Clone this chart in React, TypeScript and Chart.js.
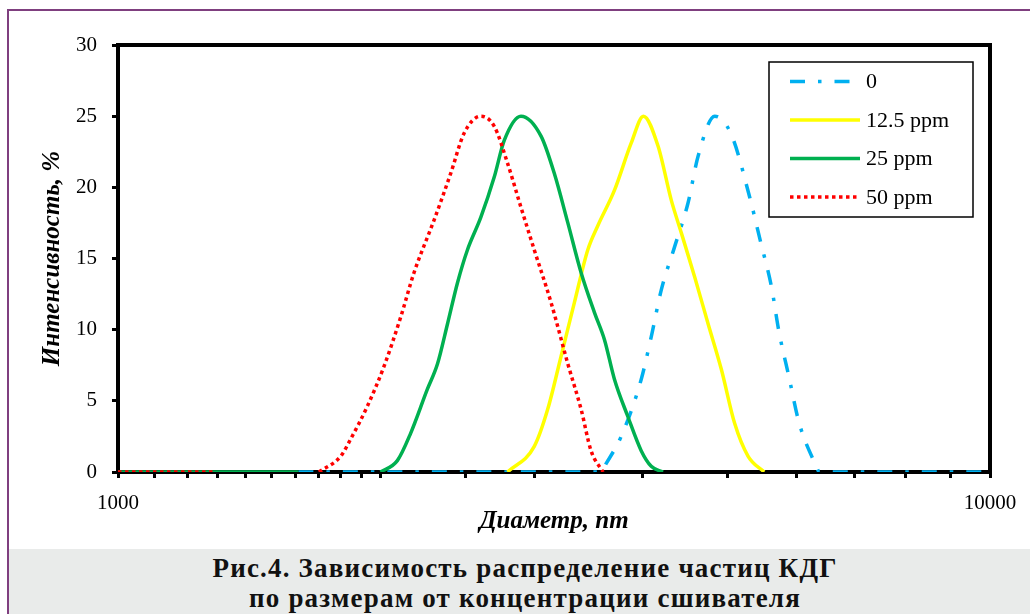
import React, { useEffect, useRef } from 'react';
import { Chart, registerables } from 'chart.js';

Chart.register(...registerables);

// ---------- data ----------
const seriesLabels = ['0', '12.5 ppm', '25 ppm', '50 ppm'];

// 0 (blue, dash-dot)
const diam0 = [1610, 3580, 3630, 3776, 3981, 4088, 4198, 4347, 4505, 4627, 4834, 5051, 5302, 5455, 5616, 5726, 5880, 6038, 6300, 6378, 10000];
const int0 = [0, 0, 0.6, 2.5, 6.5, 9.5, 12.8, 15.8, 18.9, 22.2, 25.0, 23.7, 19.3, 16.2, 13.0, 9.9, 6.7, 3.5, 0.6, 0, 0];

// 12.5 ppm (yellow)
const diam125 = [2797, 3002, 3110, 3221, 3337, 3457, 3550, 3710, 3877, 4005, 4162, 4310, 4426, 4585, 4751, 4920, 5096, 5280, 5508];
const int125 = [0, 1.8, 4.4, 8.1, 11.9, 15.6, 17.3, 19.8, 23.1, 25.0, 22.9, 19.1, 16.8, 13.7, 10.4, 7.2, 3.4, 1.1, 0];

// 25 ppm (green)
const diam25 = [1000, 1610, 1800, 2000, 2091, 2165, 2263, 2325, 2387, 2451, 2516, 2607, 2700, 2773, 2898, 3056, 3164, 3280, 3397, 3519, 3613, 3710, 3843, 3981, 4088, 4217];
const int25 = [0, 0, null, 0, 0.8, 2.7, 5.8, 7.6, 10.4, 13.3, 15.6, 17.9, 20.7, 23.3, 25.0, 23.6, 21.0, 17.5, 14.0, 11.2, 9.3, 6.5, 3.9, 1.5, 0.4, 0];

// 50 ppm (red, dotted)
const diam50 = [1000, 1286, 1500, 1700, 1800, 1848, 1931, 2018, 2110, 2185, 2304, 2408, 2494, 2607, 2700, 2797, 2898, 3002, 3138, 3280, 3397, 3487, 3600];
const int50 = [0, 0, null, 0, 1.1, 2.3, 4.6, 7.4, 10.9, 14.0, 17.7, 21.0, 23.8, 25.0, 24.3, 21.7, 18.6, 15.6, 11.9, 7.6, 4.4, 1.5, 0];

const xMin = 1000;
const xMax = 10000;
const xLabelled = [1000, 10000];
const yMin = 0;
const yMax = 30;
const yStep = 5;

const xTitle = 'Диаметр, nm';
const yTitle = 'Интенсивность, %';
const captionLines = ['Рис.4. Зависимость распределение частиц КДГ', 'по размерам от концентрации сшивателя'];

const SERIF = '"Liberation Serif", "Times New Roman", serif';

const toPoints = (xs: number[], ys: (number | null)[]) => xs.map((x, i) => ({ x, y: ys[i] }));

const framePlugin = {
  id: 'frame',
  beforeDatasetsDraw(chart: any) {
    const { ctx, chartArea } = chart;
    ctx.save();
    ctx.strokeStyle = '#000';
    ctx.lineWidth = 4;
    ctx.strokeRect(chartArea.left, chartArea.top, chartArea.right - chartArea.left, chartArea.bottom - chartArea.top);
    ctx.restore();
  },
};

const boxLegendPlugin = {
  id: 'boxLegend',
  afterDatasetsDraw(chart: any) {
    const { ctx, chartArea } = chart;
    const x0 = chartArea.right - 221;
    const y0 = chartArea.top + 17;
    const w = 204;
    const h = 155;
    ctx.save();
    ctx.fillStyle = '#fff';
    ctx.fillRect(x0, y0, w, h);
    ctx.lineWidth = 1.5;
    ctx.strokeStyle = '#000';
    ctx.setLineDash([]);
    ctx.strokeRect(x0, y0, w, h);
    chart.data.datasets.forEach((ds: any, i: number) => {
      const y = y0 + 19.5 + i * 38.5;
      ctx.beginPath();
      ctx.setLineDash(ds.borderDash || []);
      ctx.lineCap = ds.borderCapStyle || 'butt';
      ctx.lineWidth = ds.borderWidth;
      ctx.strokeStyle = ds.borderColor;
      ctx.moveTo(x0 + 21, y);
      ctx.lineTo(x0 + 91, y);
      ctx.stroke();
      ctx.setLineDash([]);
      ctx.fillStyle = '#000';
      ctx.font = '22px ' + SERIF;
      ctx.textBaseline = 'middle';
      ctx.textAlign = 'left';
      ctx.fillText(ds.label, x0 + 97, y + 1);
    });
    ctx.restore();
  },
};

function ChartView() {
  const ref = useRef<HTMLCanvasElement | null>(null);
  useEffect(() => {
    if (!ref.current) return;
    const chart = new Chart(ref.current, {
      type: 'line',
      data: {
        datasets: [
          {
            label: seriesLabels[0],
            data: toPoints(diam0, int0),
            borderColor: '#00B0F0',
            borderWidth: 3.5,
            borderDash: [15, 13, 3.5, 13],
            borderCapStyle: 'butt',
            pointRadius: 0,
            order: 4,
          },
          {
            label: seriesLabels[1],
            data: toPoints(diam125, int125),
            borderColor: '#FFFF00',
            borderWidth: 3.5,
            pointRadius: 0,
            order: 3,
          },
          {
            label: seriesLabels[2],
            data: toPoints(diam25, int25),
            borderColor: '#00B050',
            borderWidth: 3.5,
            pointRadius: 0,
            order: 2,
          },
          {
            label: seriesLabels[3],
            data: toPoints(diam50, int50),
            borderColor: '#FF0000',
            borderWidth: 3.5,
            borderDash: [3.5, 3.5],
            pointRadius: 0,
            order: 1,
          },
        ] as any,
      },
      options: {
        animation: false,
        responsive: false,
        maintainAspectRatio: false,
        parsing: true,
        spanGaps: false,
        elements: { line: { cubicInterpolationMode: 'monotone', fill: false } },
        layout: { padding: { top: 45, right: 40, left: 0, bottom: 0 } },
        plugins: { legend: { display: false }, tooltip: { enabled: false } },
        scales: {
          x: {
            type: 'logarithmic',
            min: xMin,
            max: xMax,
            afterFit: (s: any) => { s.height = 77; },
            border: { display: false },
            grid: { drawOnChartArea: false, drawTicks: true, tickLength: 6, tickWidth: 3, tickColor: '#000' },
            ticks: {
              autoSkip: false,
              maxRotation: 0,
              padding: 13,
              color: '#000',
              font: { family: SERIF, size: 21 },
              callback: (v: any) => (xLabelled.includes(Number(v)) ? String(v) : ''),
            },
            title: {
              display: true,
              text: xTitle,
              color: '#000',
              font: { family: SERIF, size: 25, weight: 'bold', style: 'italic' },
              padding: { top: 12, bottom: 12 },
            },
          },
          y: {
            type: 'linear',
            min: yMin,
            max: yMax,
            afterFit: (s: any) => { s.width = 118; },
            border: { display: false },
            grid: { drawOnChartArea: false, drawTicks: true, tickLength: 6, tickWidth: 3, tickColor: '#000' },
            ticks: {
              stepSize: yStep,
              padding: 15,
              color: '#000',
              font: { family: SERIF, size: 21 },
            },
            title: {
              display: true,
              text: yTitle,
              color: '#000',
              font: { family: SERIF, size: 25, weight: 'bold', style: 'italic' },
              padding: { top: 38, bottom: 38 },
            },
          },
        },
      } as any,
      plugins: [framePlugin, boxLegendPlugin],
    });
    return () => chart.destroy();
  }, []);
  return <canvas ref={ref} width={1030} height={549} style={{ position: 'absolute', left: 0, top: 0, width: 1030, height: 549 }} />;
}

export default function App() {
  return (
    <div style={{ position: 'fixed', left: 0, top: 0, width: 1030, height: 614, background: '#fff', overflow: 'hidden' }}>
      <div
        style={{
          position: 'absolute',
          left: 9,
          top: 549,
          width: 1030,
          height: 70,
          background: '#E9EBEA',
        }}
      />
      <div
        style={{
          position: 'absolute',
          left: 9,
          top: 553,
          width: 1032,
          textAlign: 'center',
          fontFamily: SERIF,
          fontWeight: 'bold',
          fontSize: 27,
          letterSpacing: '1.2px',
          lineHeight: '30px',
          color: '#111',
        }}
      >
        {captionLines.map((l, i) => (
          <div key={i}>{l}</div>
        ))}
      </div>
      <ChartView />
      <div
        style={{
          position: 'absolute',
          left: 7,
          top: 9,
          width: 1100,
          height: 700,
          border: '2px solid #7F3F7F',
          pointerEvents: 'none',
        }}
      />
    </div>
  );
}
